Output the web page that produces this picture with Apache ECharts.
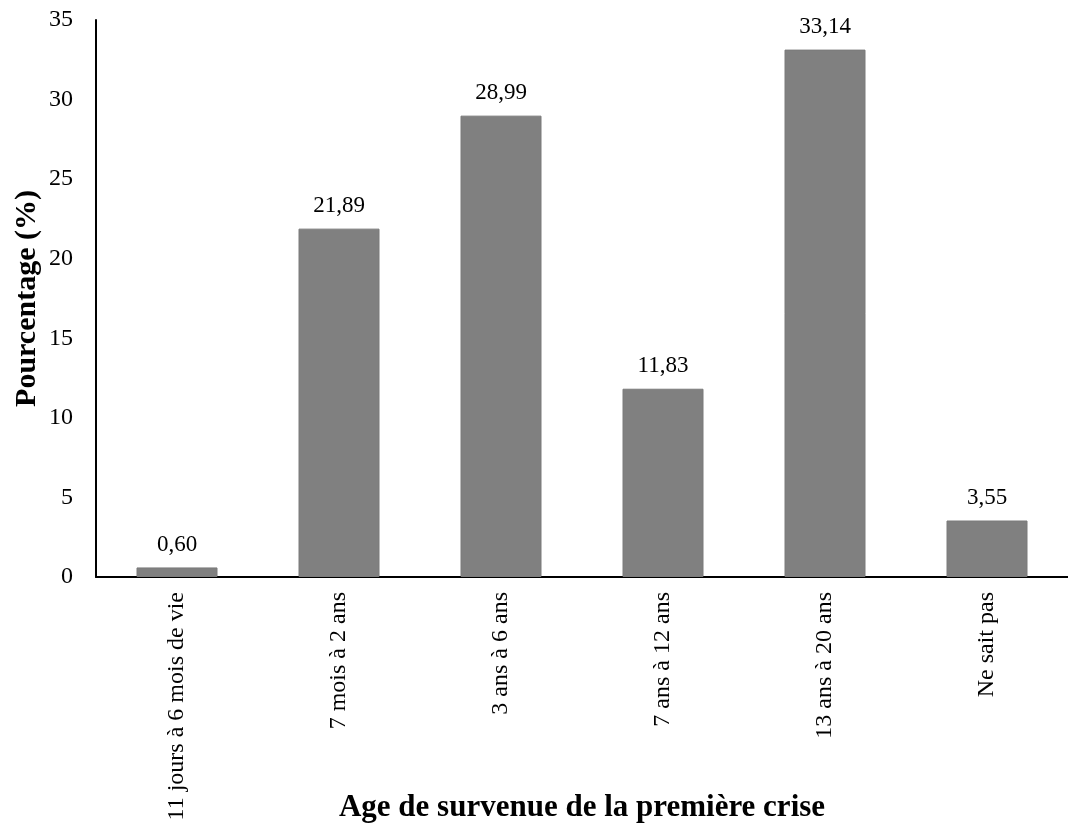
<!DOCTYPE html>
<html>
<head>
<meta charset="utf-8">
<script src="https://cdn.jsdelivr.net/npm/echarts@6/dist/echarts.min.js"></script>
<style>
  html, body { margin: 0; padding: 0; background: #fff; }
  #chart { width: 1068px; height: 832px; }
</style>
</head>
<body>
<div id="chart"></div>
<script>
// Age at first seizure – share of patients (%)
const categories = [
  '11 jours à 6 mois de vie',
  '7 mois à 2 ans',
  '3 ans à 6 ans',
  '7 ans à 12 ans',
  '13 ans à 20 ans',
  'Ne sait pas'
];
const percentages = [0.60, 21.89, 28.99, 11.83, 33.14, 3.55];
const yTicks = { min: 0, max: 35, interval: 5 };

const font = '"Liberation Serif", "Times New Roman", serif';

const chart = echarts.init(document.getElementById('chart'));
chart.setOption({
  animation: false,
  backgroundColor: '#ffffff',
  grid: {
    left: 96, right: 0, top: 20, bottom: 255,
    containLabel: false,
    outerBoundsMode: 'none'
  },
  xAxis: {
    type: 'category',
    data: categories,
    name: 'Age de survenue de la première crise',
    nameLocation: 'middle',
    nameGap: 215,
    nameMoveOverlap: false,
    nameTextStyle: { fontFamily: font, fontSize: 31, fontWeight: 'bold', color: '#000' },
    axisLine: { lineStyle: { color: '#000', width: 2 } },
    axisTick: { show: false },
    axisLabel: {
      rotate: 90,
      margin: 15,
      interval: 0,
      fontFamily: font,
      fontSize: 24,
      color: '#000'
    }
  },
  yAxis: {
    type: 'value',
    min: yTicks.min,
    max: yTicks.max,
    interval: yTicks.interval,
    name: 'Pourcentage (%)',
    nameLocation: 'middle',
    nameGap: 54,
    nameMoveOverlap: false,
    nameTextStyle: { fontFamily: font, fontSize: 30, fontWeight: 'bold', color: '#000' },
    axisLine: { show: true, lineStyle: { color: '#000', width: 2 } },
    axisTick: { show: false },
    splitLine: { show: false },
    axisLabel: { margin: 23, fontFamily: font, fontSize: 24, color: '#000' }
  },
  series: [{
    type: 'bar',
    data: percentages,
    barWidth: '50%',
    itemStyle: { color: '#808080', borderColor: '#7a7a7a', borderWidth: 1 },
    label: {
      show: true,
      position: 'top',
      distance: 11,
      fontFamily: font,
      fontSize: 23,
      color: '#000',
      formatter: p => p.value.toFixed(2).replace('.', ',')
    }
  }]
});
</script>
</body>
</html>
